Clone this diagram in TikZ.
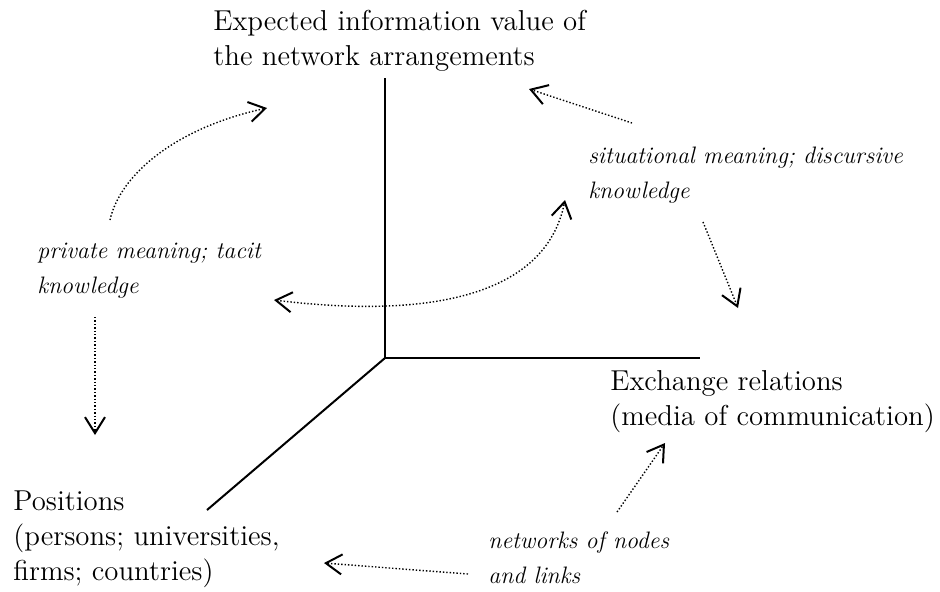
\documentclass[tikz,border=0pt]{standalone}
\usetikzlibrary{arrows.meta}
\tikzset{
  axis/.style={line width=1pt},
  flow/.style={line width=0.7pt, dash pattern=on 0.7pt off 1pt},
  axistext/.style={anchor=base west, align=left, inner sep=0pt,
    font=\fontsize{14.4}{17.5}\selectfont},
  remark/.style={anchor=base west, align=left, inner sep=0pt,
    font=\fontsize{11.9}{17.5}\selectfont\itshape},
}

\begin{document}
\begin{tikzpicture}[x=0.5pt, y=-0.5pt,
    >={Straight Barb[length=8pt,width=10pt,line width=1pt]}]
  \useasboundingbox (0,0) rectangle (940,591);

  % coordinates to be reused
  \coordinate (O) at (385,358);
  \coordinate (Y) at (385,78);
  \coordinate (X) at (700,358);
  \coordinate (Z) at (207,510);

  % draw axes
  \draw [axis] (Y) -- (O) -- (X);
  \draw [axis] (O) -- (Z);

  % add labels (placed at the baseline of the last line)
  \node [axistext] (value) at (213,65) {Expected information value of\\the network arrangements};
  \node [axistext] (exchange) at (610,425) {Exchange relations\\(media of communication)};
  \node [axistext] (positions) at (13,580) {Positions\\(persons; universities,\\firms; countries)};
  \node [remark] (situational) at (588,198) {situational meaning; discursive\\knowledge};
  \node [remark] (private) at (37,293) {private meaning; tacit\\knowledge};
  \node [remark] (networks) at (488,583) {networks of nodes\\and links};

  % arrow ends
  \coordinate (p1) at (110,220);
  \coordinate (p2) at (267,108);
  \coordinate (p3) at (95,317);
  \coordinate (p4) at (95,435);
  \coordinate (s1) at (632,123);
  \coordinate (s2) at (529,89);
  \coordinate (s3) at (703,222);
  \coordinate (s4) at (738,308);
  \coordinate (m1) at (274,300);
  \coordinate (m2) at (565,200);
  \coordinate (n1) at (617,512);
  \coordinate (n2) at (665,443);
  \coordinate (n3) at (468,574);
  \coordinate (n4) at (324,563);

  % dotted arrows
  \draw [flow, ->] (p1) .. controls (120,175) and (175,128) .. (p2);
  \draw [flow, ->] (p3) -- (p4);
  \draw [flow, ->] (s1) -- (s2);
  \draw [flow, ->] (s3) -- (s4);
  \draw [flow, <->] (m1) .. controls (420,318) and (545,300) .. (m2);
  \draw [flow, ->] (n1) -- (n2);
  \draw [flow, ->] (n3) -- (n4);
\end{tikzpicture}
\end{document}
